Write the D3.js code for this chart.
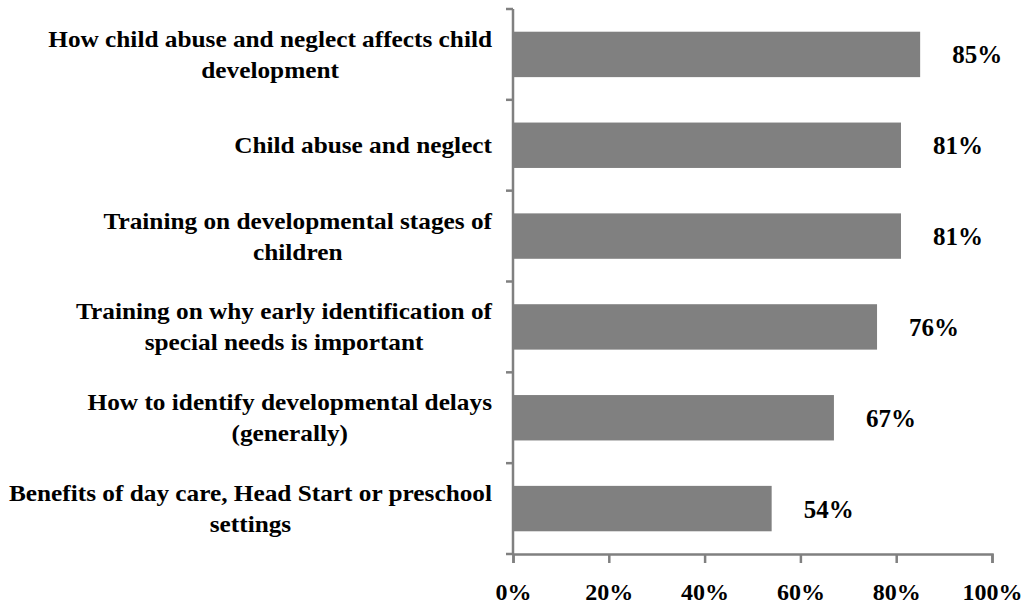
<!DOCTYPE html>
<html>
<head>
<meta charset="utf-8">
<script src="https://cdn.jsdelivr.net/npm/d3@7"></script>
<style>
  html, body { margin: 0; padding: 0; background: #fff; }
  svg { display: block; }
  text { font-family: "Liberation Serif", "Times New Roman", serif; font-weight: bold; fill: #000; }
</style>
</head>
<body>
<svg id="chart"></svg>
<script>
// topics, each one split into the lines shown on the chart
const topics = [
  ["How child abuse and neglect affects child", "development"],
  ["Child abuse and neglect"],
  ["Training on developmental stages of", "children"],
  ["Training on why early identification of", "special needs is important"],
  ["How to identify developmental delays", "(generally)"],
  ["Benefits of day care, Head Start or preschool", "settings"]
];
const shares = [0.85, 0.81, 0.81, 0.76, 0.67, 0.54];
const tickValues = [0, 0.2, 0.4, 0.6, 0.8, 1.0];

const width = 1026;
const height = 608;
const axisColor = "#808080";
const barColor = "#808080";

const svg = d3.select("#chart")
    .attr("width", width)
    .attr("height", height);

const x = d3.scaleLinear()
    .domain([0, 1])
    .range([513, 992]);

const y = d3.scaleBand()
    .domain(d3.range(topics.length))
    .range([9, 554])
    .paddingInner(0.5)
    .paddingOuter(0.25);

// bars
svg.append("g")
  .selectAll("rect")
  .data(shares)
  .join("rect")
    .attr("x", x(0))
    .attr("y", (d, i) => y(i))
    .attr("width", d => x(d) - x(0))
    .attr("height", y.bandwidth())
    .attr("fill", barColor);

// value labels
svg.append("g")
  .selectAll("text")
  .data(shares)
  .join("text")
    .attr("x", d => x(d) + 32)
    .attr("y", (d, i) => y(i) + y.bandwidth() / 2 + 9)
    .attr("font-size", 25)
    .text(d => Math.round(d * 100) + "%");

// x axis
const xAxis = svg.append("g")
    .attr("transform", `translate(0, ${y.range()[1]})`)
    .call(d3.axisBottom(x)
      .tickValues(tickValues)
      .tickFormat(d3.format(".0%"))
      .tickSizeOuter(0)
      .tickSize(9)
      .tickPadding(20));

xAxis.select(".domain").attr("stroke", axisColor).attr("stroke-width", 2.5);
xAxis.selectAll(".tick line").attr("stroke", axisColor).attr("stroke-width", 2.5);
xAxis.selectAll(".tick text")
    .attr("font-size", 24)
    .attr("font-family", "\"Liberation Serif\", serif")
    .attr("font-weight", "bold")
    .attr("fill", "#000");

// y axis: line plus ticks between the categories
const yAxis = svg.append("g");
const gap = y.step() - y.bandwidth();
const boundaries = d3.range(topics.length).map(i => y(i) - gap / 2)
    .concat([y(topics.length - 1) + y.bandwidth() + gap / 2]);

yAxis.append("line")
    .attr("x1", x(0))
    .attr("x2", x(0))
    .attr("y1", y.range()[0])
    .attr("y2", y.range()[1])
    .attr("stroke", axisColor)
    .attr("stroke-width", 2.5);

yAxis.selectAll("line.tick")
  .data(boundaries)
  .join("line")
    .attr("class", "tick")
    .attr("x1", x(0) - 7)
    .attr("x2", x(0))
    .attr("y1", d => d)
    .attr("y2", d => d)
    .attr("stroke", axisColor)
    .attr("stroke-width", 2.5);

// category labels: block right-aligned, lines centred within it,
// stretched a little sideways like the source picture
const labelRight = 492;
const lineHeight = 31;
const stretch = 1.1;
const labels = svg.append("g")
  .selectAll("text")
  .data(topics)
  .join("text")
    .attr("font-size", 23)
    .attr("text-anchor", "middle")
    .attr("transform", `translate(${labelRight},0) scale(${stretch},1)`);

labels.each(function(lines, i) {
  const t = d3.select(this);
  const mid = y(i) + y.bandwidth() / 2 + 8;
  const first = mid - (lines.length - 1) * lineHeight / 2;
  lines.forEach((line, j) => {
    t.append("tspan")
      .attr("y", first + j * lineHeight)
      .text(line);
  });
  const maxW = d3.max(t.selectAll("tspan").nodes(), n => n.getComputedTextLength());
  t.selectAll("tspan").attr("x", -maxW / 2);
});
</script>
</body>
</html>
